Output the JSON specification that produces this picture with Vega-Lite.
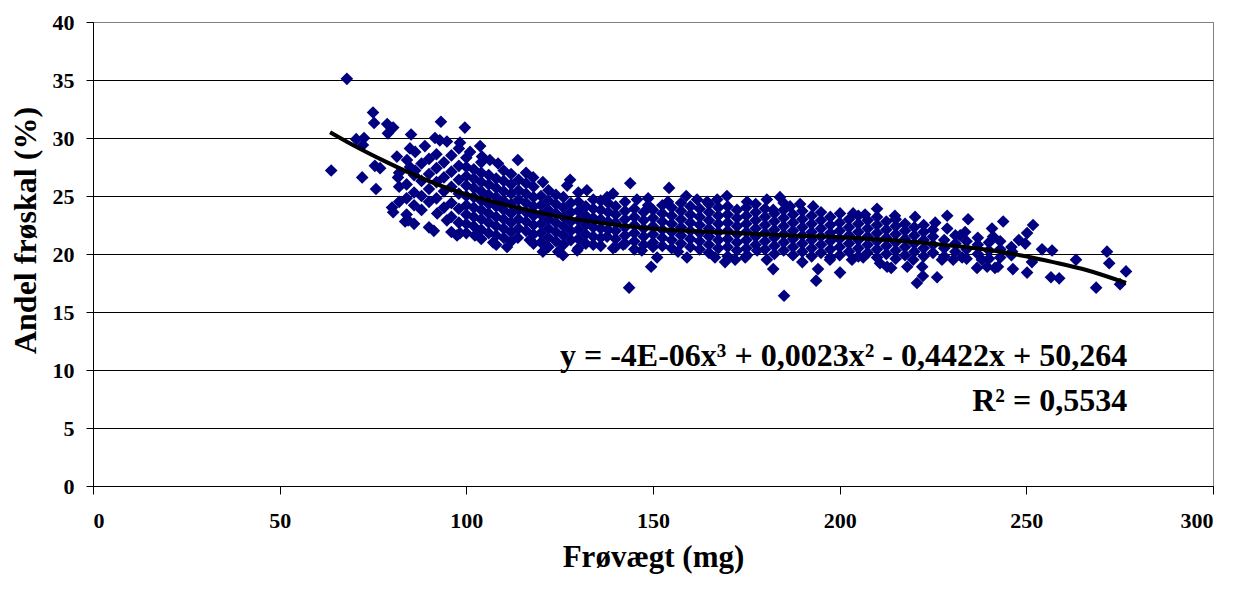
{
  "$schema": "https://vega.github.io/schema/vega-lite/v6.json",
  "width": 1120,
  "height": 464,
  "autosize": "none",
  "padding": {"left": 93, "top": 22, "right": 29, "bottom": 104},
  "background": "white",
  "config": {
    "font": "Liberation Serif",
    "view": {"stroke": "#808080", "strokeWidth": 1}
  },
  "datasets": {
    "pts": [
      {"x":63.8,"y":27.2},{"x":68.0,"y":35.1},{"x":70.5,"y":29.9},{"x":72.6,"y":30.0},{"x":72.3,"y":29.4},{"x":72.1,"y":26.6},
      {"x":75.0,"y":32.2},{"x":75.3,"y":31.3},{"x":75.8,"y":25.6},{"x":75.5,"y":27.6},{"x":76.9,"y":27.4},{"x":78.8,"y":31.2},
      {"x":80.4,"y":30.9},{"x":79.0,"y":30.4},{"x":81.4,"y":28.4},{"x":81.7,"y":26.6},{"x":80.1,"y":24.0},{"x":80.4,"y":23.6},
      {"x":83.6,"y":22.8},{"x":84.4,"y":22.9},{"x":85.2,"y":30.3},{"x":88.9,"y":29.3},{"x":84.9,"y":29.1},{"x":86.3,"y":28.8},
      {"x":84.1,"y":28.1},{"x":84.9,"y":27.5},{"x":86.3,"y":27.2},{"x":91.3,"y":22.0},{"x":97.5,"y":21.6},{"x":92.2,"y":23.5},
      {"x":94.8,"y":22.9},{"x":91.6,"y":30.0},{"x":92.9,"y":29.8},{"x":94.8,"y":29.7},{"x":93.2,"y":31.4},{"x":99.6,"y":30.9},
      {"x":98.3,"y":29.6},
      {"x":82,"y":24.5},{"x":82,"y":25.8},{"x":82,"y":27.0},
      {"x":84,"y":23.4},{"x":84,"y":24.8},{"x":84,"y":26.0},
      {"x":86,"y":22.6},{"x":86,"y":24.2},{"x":86,"y":25.3},{"x":86,"y":26.8},
      {"x":88,"y":23.8},{"x":88,"y":25.0},{"x":88,"y":26.3},{"x":88,"y":27.8},
      {"x":90,"y":22.3},{"x":90,"y":24.5},{"x":90,"y":25.6},{"x":90,"y":26.9},{"x":90,"y":28.2},
      {"x":92,"y":24.8},{"x":92,"y":26.2},{"x":92,"y":27.4},{"x":92,"y":28.6},
      {"x":94,"y":24.0},{"x":94,"y":25.4},{"x":94,"y":26.6},{"x":94,"y":27.9},
      {"x":96,"y":21.9},{"x":96,"y":23.2},{"x":96,"y":24.4},{"x":96,"y":25.8},{"x":96,"y":27.1},{"x":96,"y":28.5},
      {"x":98,"y":22.7},{"x":98,"y":23.9},{"x":98,"y":25.2},{"x":98,"y":26.4},{"x":98,"y":27.6},{"x":98,"y":29.1},
      {"x":100,"y":21.8},{"x":100,"y":22.6},{"x":100,"y":23.4},{"x":100,"y":24.2},{"x":100,"y":25.0},{"x":100,"y":25.9},{"x":100,"y":26.7},{"x":100,"y":27.5},{"x":100,"y":28.3},
      {"x":102,"y":22.4},{"x":102,"y":23.2},{"x":102,"y":24.0},{"x":102,"y":24.9},{"x":102,"y":25.7},{"x":102,"y":26.5},{"x":102,"y":27.3},
      {"x":104,"y":21.3},{"x":104,"y":22.1},{"x":104,"y":23.0},{"x":104,"y":23.8},{"x":104,"y":24.6},{"x":104,"y":25.4},{"x":104,"y":26.2},{"x":104,"y":27.0},{"x":104,"y":27.9},
      {"x":106,"y":21.8},{"x":106,"y":22.7},{"x":106,"y":23.5},{"x":106,"y":24.3},{"x":106,"y":25.1},{"x":106,"y":26.0},{"x":106,"y":26.8},
      {"x":108,"y":20.8},{"x":108,"y":21.6},{"x":108,"y":22.4},{"x":108,"y":23.2},{"x":108,"y":24.1},{"x":108,"y":24.9},{"x":108,"y":25.7},{"x":108,"y":26.5},
      {"x":110,"y":21.4},{"x":110,"y":22.2},{"x":110,"y":23.0},{"x":110,"y":23.8},{"x":110,"y":24.6},{"x":110,"y":25.4},{"x":110,"y":26.3},{"x":110,"y":27.2},
      {"x":112,"y":21.1},{"x":112,"y":21.9},{"x":112,"y":22.7},{"x":112,"y":23.5},{"x":112,"y":24.3},{"x":112,"y":25.2},{"x":112,"y":26.0},{"x":112,"y":26.9},
      {"x":114,"y":22.2},{"x":114,"y":23.0},{"x":114,"y":23.8},{"x":114,"y":24.7},{"x":114,"y":25.5},{"x":114,"y":26.4},
      {"x":116,"y":22.0},{"x":116,"y":22.8},{"x":116,"y":23.6},{"x":116,"y":24.4},{"x":116,"y":25.2},{"x":116,"y":26.1},{"x":116,"y":27.0},
      {"x":118,"y":20.9},{"x":118,"y":21.7},{"x":118,"y":22.5},{"x":118,"y":23.3},{"x":118,"y":24.1},{"x":118,"y":24.9},{"x":118,"y":25.8},
      {"x":120,"y":21.0},{"x":120,"y":21.8},{"x":120,"y":22.6},{"x":120,"y":23.4},{"x":120,"y":24.2},{"x":120,"y":25.0},
      {"x":122,"y":20.6},{"x":122,"y":21.4},{"x":122,"y":22.2},{"x":122,"y":23.0},{"x":122,"y":23.8},{"x":122,"y":24.6},{"x":122,"y":25.5},
      {"x":124,"y":21.1},{"x":124,"y":21.9},{"x":124,"y":22.7},{"x":124,"y":23.5},{"x":124,"y":24.3},{"x":124,"y":25.1},
      {"x":126,"y":20.8},{"x":126,"y":21.6},{"x":126,"y":22.4},{"x":126,"y":23.2},{"x":126,"y":24.0},{"x":126,"y":24.9},
      {"x":128,"y":21.2},{"x":128,"y":22.0},{"x":128,"y":22.8},{"x":128,"y":23.6},{"x":128,"y":24.4},
      {"x":130,"y":20.5},{"x":130,"y":21.3},{"x":130,"y":22.1},{"x":130,"y":22.9},{"x":130,"y":23.7},{"x":130,"y":24.5},{"x":130,"y":25.3},
      {"x":132,"y":20.9},{"x":132,"y":21.7},{"x":132,"y":22.5},{"x":132,"y":23.3},{"x":132,"y":24.1},
      {"x":134,"y":21.5},{"x":134,"y":22.3},{"x":134,"y":23.1},{"x":134,"y":23.9},{"x":134,"y":24.7},
      {"x":136,"y":20.7},{"x":136,"y":21.4},{"x":136,"y":22.2},{"x":136,"y":23.0},{"x":136,"y":23.8},{"x":136,"y":24.6},
      {"x":138,"y":22.1},{"x":138,"y":22.8},{"x":138,"y":23.6},{"x":138,"y":24.4},
      {"x":140,"y":20.6},{"x":140,"y":21.3},{"x":140,"y":22.0},{"x":140,"y":22.7},{"x":140,"y":23.4},{"x":140,"y":24.1},
      {"x":142.5,"y":20.9},{"x":142.5,"y":21.6},{"x":142.5,"y":22.3},{"x":142.5,"y":23.0},{"x":142.5,"y":23.7},{"x":142.5,"y":24.5},
      {"x":145,"y":20.4},{"x":145,"y":21.1},{"x":145,"y":21.8},{"x":145,"y":22.5},{"x":145,"y":23.2},{"x":145,"y":23.9},
      {"x":147.5,"y":20.8},{"x":147.5,"y":21.5},{"x":147.5,"y":22.2},{"x":147.5,"y":22.9},{"x":147.5,"y":23.6},
      {"x":150,"y":21.0},{"x":150,"y":21.7},{"x":150,"y":22.4},{"x":150,"y":23.1},{"x":150,"y":23.8},
      {"x":152.5,"y":20.7},{"x":152.5,"y":21.4},{"x":152.5,"y":22.1},{"x":152.5,"y":22.8},{"x":152.5,"y":23.5},{"x":152.5,"y":24.2},
      {"x":155,"y":20.5},{"x":155,"y":21.2},{"x":155,"y":21.9},{"x":155,"y":22.6},{"x":155,"y":23.3},{"x":155,"y":24.0},
      {"x":157.5,"y":20.9},{"x":157.5,"y":21.6},{"x":157.5,"y":22.3},{"x":157.5,"y":23.0},{"x":157.5,"y":23.7},{"x":157.5,"y":24.4},
      {"x":160,"y":20.6},{"x":160,"y":21.3},{"x":160,"y":22.0},{"x":160,"y":22.7},{"x":160,"y":23.4},{"x":160,"y":24.1},
      {"x":162.5,"y":20.4},{"x":162.5,"y":21.1},{"x":162.5,"y":21.8},{"x":162.5,"y":22.5},{"x":162.5,"y":23.2},{"x":162.5,"y":23.9},
      {"x":165,"y":20.1},{"x":165,"y":20.8},{"x":165,"y":21.5},{"x":165,"y":22.2},{"x":165,"y":22.9},{"x":165,"y":23.6},{"x":165,"y":24.3},
      {"x":167.5,"y":20.5},{"x":167.5,"y":21.2},{"x":167.5,"y":21.9},{"x":167.5,"y":22.6},{"x":167.5,"y":23.3},{"x":167.5,"y":24.0},
      {"x":170,"y":19.8},{"x":170,"y":20.6},{"x":170,"y":21.3},{"x":170,"y":22.0},{"x":170,"y":22.7},{"x":170,"y":23.4},{"x":170,"y":24.1},
      {"x":172.5,"y":20.3},{"x":172.5,"y":21.0},{"x":172.5,"y":21.7},{"x":172.5,"y":22.4},{"x":172.5,"y":23.1},{"x":172.5,"y":23.8},
      {"x":175,"y":20.5},{"x":175,"y":21.2},{"x":175,"y":21.9},{"x":175,"y":22.6},{"x":175,"y":23.3},{"x":175,"y":24.0},
      {"x":177.5,"y":20.8},{"x":177.5,"y":21.5},{"x":177.5,"y":22.2},{"x":177.5,"y":22.9},{"x":177.5,"y":23.6},{"x":177.5,"y":24.3},
      {"x":180,"y":20.4},{"x":180,"y":21.1},{"x":180,"y":21.8},{"x":180,"y":22.5},{"x":180,"y":23.2},{"x":180,"y":23.9},
      {"x":182.5,"y":20.0},{"x":182.5,"y":20.7},{"x":182.5,"y":21.4},{"x":182.5,"y":22.1},{"x":182.5,"y":22.8},{"x":182.5,"y":23.5},
      {"x":185,"y":20.3},{"x":185,"y":21.0},{"x":185,"y":21.7},{"x":185,"y":22.4},{"x":185,"y":23.1},{"x":185,"y":23.8},{"x":185,"y":24.4},
      {"x":187.5,"y":19.9},{"x":187.5,"y":20.6},{"x":187.5,"y":21.3},{"x":187.5,"y":22.0},{"x":187.5,"y":22.7},{"x":187.5,"y":23.4},
      {"x":190,"y":20.2},{"x":190,"y":20.9},{"x":190,"y":21.6},{"x":190,"y":22.3},{"x":190,"y":23.0},{"x":190,"y":23.7},
      {"x":192.5,"y":19.8},{"x":192.5,"y":20.5},{"x":192.5,"y":21.2},{"x":192.5,"y":21.9},{"x":192.5,"y":22.6},{"x":192.5,"y":23.3},
      {"x":195,"y":20.1},{"x":195,"y":20.8},{"x":195,"y":21.5},{"x":195,"y":22.2},{"x":195,"y":22.9},{"x":195,"y":23.6},
      {"x":197.5,"y":19.7},{"x":197.5,"y":20.4},{"x":197.5,"y":21.1},{"x":197.5,"y":21.8},{"x":197.5,"y":22.5},{"x":197.5,"y":23.2},
      {"x":200,"y":19.9},{"x":200,"y":20.6},{"x":200,"y":21.3},{"x":200,"y":22.0},{"x":200,"y":22.7},
      {"x":202.5,"y":20.2},{"x":202.5,"y":20.9},{"x":202.5,"y":21.6},{"x":202.5,"y":22.3},{"x":202.5,"y":23.0},
      {"x":205,"y":19.8},{"x":205,"y":20.5},{"x":205,"y":21.2},{"x":205,"y":21.9},{"x":205,"y":22.6},{"x":205,"y":23.3},
      {"x":207.5,"y":20.1},{"x":207.5,"y":20.8},{"x":207.5,"y":21.5},{"x":207.5,"y":22.2},{"x":207.5,"y":22.9},
      {"x":210,"y":19.7},{"x":210,"y":20.4},{"x":210,"y":21.1},{"x":210,"y":21.8},{"x":210,"y":22.5},{"x":210,"y":23.2},
      {"x":212.5,"y":20.0},{"x":212.5,"y":20.7},{"x":212.5,"y":21.4},{"x":212.5,"y":22.1},{"x":212.5,"y":22.8},
      {"x":215,"y":19.6},{"x":215,"y":20.3},{"x":215,"y":21.0},{"x":215,"y":21.7},{"x":215,"y":22.4},{"x":215,"y":23.0},
      {"x":217.5,"y":19.9},{"x":217.5,"y":20.6},{"x":217.5,"y":21.3},{"x":217.5,"y":22.0},{"x":217.5,"y":22.6},
      {"x":220,"y":20.2},{"x":220,"y":20.9},{"x":220,"y":21.6},{"x":220,"y":22.3},
      {"x":222.5,"y":19.8},{"x":222.5,"y":20.5},{"x":222.5,"y":21.2},{"x":222.5,"y":21.9},{"x":222.5,"y":22.5},
      {"x":225,"y":20.1},{"x":225,"y":20.8},{"x":225,"y":21.5},{"x":225,"y":22.1},
      {"x":228,"y":19.8},{"x":228,"y":20.5},{"x":228,"y":21.2},
      {"x":231,"y":20.2},{"x":231,"y":20.9},{"x":231,"y":21.6},
      {"x":234,"y":19.6},{"x":234,"y":20.4},{"x":234,"y":21.1},
      {"x":237,"y":20.0},{"x":237,"y":20.8},{"x":237,"y":21.4},
      {"x":240,"y":19.6},{"x":240,"y":20.3},{"x":240,"y":21.0},
      {"x":243,"y":20.4},{"x":243,"y":21.1},
      {"x":246,"y":19.9},{"x":246,"y":20.6},
      {"x":248,"y":21.2},
      {"x":101,"y":28.8},{"x":103.7,"y":29.3},{"x":104.2,"y":28.4},{"x":106.3,"y":28.1},{"x":108.5,"y":27.8},{"x":113.8,"y":28.1},
      {"x":117.9,"y":26.6},{"x":120.5,"y":26.2},{"x":127.8,"y":26.4},{"x":132.3,"y":25.5},{"x":137.7,"y":24.9},{"x":127,"y":25.9},
      {"x":98.3,"y":21.8},{"x":102.3,"y":21.6},{"x":107.2,"y":21.0},{"x":110.9,"y":20.6},{"x":113.8,"y":21.4},{"x":117,"y":21.2},
      {"x":120.5,"y":20.2},{"x":124.6,"y":20.2},{"x":125.9,"y":19.9},{"x":129.7,"y":20.3},{"x":134,"y":20.8},{"x":137.7,"y":21.5},
      {"x":143.9,"y":26.1},{"x":154.3,"y":25.7},{"x":154,"y":24.5},{"x":158.9,"y":25.0},{"x":169.8,"y":25.0},{"x":175.2,"y":24.5},
      {"x":139.3,"y":25.2},{"x":145.7,"y":24.7},{"x":148.7,"y":24.8},{"x":148.7,"y":24.2},{"x":161.8,"y":24.7},{"x":164.5,"y":24.5},
      {"x":167.2,"y":24.7},
      {"x":149.5,"y":18.9},{"x":143.6,"y":17.1},{"x":151.1,"y":19.7},{"x":156.7,"y":20.2},{"x":159.1,"y":19.7},{"x":166.6,"y":19.7},
      {"x":169.3,"y":19.3},{"x":172,"y":19.5},{"x":175.2,"y":19.9},{"x":139.3,"y":20.5},{"x":142,"y":20.8},{"x":147,"y":20.3},
      {"x":150,"y":20.6},
      {"x":180.5,"y":24.7},{"x":184,"y":24.9},{"x":189.4,"y":24.3},{"x":192.9,"y":24.1},{"x":200.1,"y":23.5},{"x":203.6,"y":23.5},
      {"x":206.8,"y":23.4},{"x":210,"y":23.9},{"x":186.7,"y":24.1},{"x":182.2,"y":23.8},
      {"x":182.2,"y":18.7},{"x":185.1,"y":16.4},{"x":193.7,"y":17.7},{"x":194.2,"y":18.7},{"x":200.1,"y":18.4},{"x":180.5,"y":19.5},
      {"x":190,"y":19.3},{"x":197.4,"y":19.5},{"x":203.3,"y":19.5},{"x":206.3,"y":19.7},{"x":210.8,"y":19.2},{"x":212.7,"y":18.9},
      {"x":174.7,"y":19.7},{"x":177.9,"y":20.3},
      {"x":214.8,"y":23.3},{"x":220.2,"y":23.2},{"x":228.8,"y":23.3},{"x":234.4,"y":23.0},{"x":243.8,"y":22.8},{"x":250.2,"y":21.8},
      {"x":249.7,"y":20.9},{"x":225.6,"y":22.7},{"x":228.8,"y":22.2},{"x":240.8,"y":22.2},{"x":241.1,"y":21.5},
      {"x":232.3,"y":21.6},{"x":233.6,"y":21.9},
      {"x":213.8,"y":18.8},{"x":218.1,"y":18.9},{"x":220.7,"y":17.5},{"x":222.3,"y":18.1},{"x":226.1,"y":18.0},{"x":222.1,"y":18.9},
      {"x":230.4,"y":19.5},{"x":236.8,"y":18.8},{"x":239.5,"y":18.9},{"x":241.6,"y":18.8},{"x":242.4,"y":18.9},{"x":246.4,"y":18.7},
      {"x":250.2,"y":18.4},{"x":219.7,"y":19.5},{"x":227.4,"y":19.5},{"x":232.8,"y":19.7},{"x":238.1,"y":19.5},{"x":243,"y":19.7},
      {"x":246.2,"y":20.2},
      {"x":251.8,"y":22.5},{"x":251.5,"y":19.3},{"x":254.2,"y":20.4},{"x":256.9,"y":20.3},{"x":256.6,"y":18.0},{"x":258.8,"y":17.9},
      {"x":263.3,"y":19.5},{"x":268.7,"y":17.1},{"x":271.6,"y":20.2},{"x":272.2,"y":19.2},{"x":275.1,"y":17.4},{"x":276.7,"y":18.5}
    ],
    "trend": [
      {"x":63.5,"y":30.5},{"x":69.6,"y":29.4},{"x":78.8,"y":27.9},{"x":87.6,"y":26.6},{"x":98.3,"y":25.3},{"x":107.2,"y":24.5},
      {"x":116.3,"y":23.8},{"x":125.1,"y":23.2},{"x":135.8,"y":22.7},{"x":149.2,"y":22.2},{"x":162.6,"y":21.95},{"x":176,"y":21.75},
      {"x":186.7,"y":21.6},{"x":200.1,"y":21.45},{"x":213.5,"y":21.2},{"x":224.2,"y":20.9},{"x":237.6,"y":20.45},{"x":248.3,"y":19.9},
      {"x":257.2,"y":19.3},{"x":266.3,"y":18.6},{"x":276.7,"y":17.5}
    ],
    "eq": [
      {"x":277,"y":10.34,"t":"y = -4E-06x³ + 0,0023x² - 0,4422x + 50,264"},
      {"x":277,"y":6.47,"t":"R² = 0,5534"}
    ]
  },
  "layer": [
    {
      "data": {"name": "pts"},
      "mark": {"type": "point", "shape": "diamond", "filled": true, "size": 160, "color": "#000080", "opacity": 1, "strokeWidth": 0},
      "encoding": {
        "x": {
          "field": "x", "type": "quantitative",
          "scale": {"domain": [0, 300], "nice": false, "zero": false},
          "axis": {
            "values": [0, 50, 100, 150, 200, 250, 300],
            "grid": false,
            "tickSize": 8, "tickColor": "#000", "domainColor": "#000",
            "labelFont": "Liberation Serif", "labelFontSize": 22, "labelFontWeight": "bold", "labelColor": "#000",
            "labelPadding": 16,
            "title": "Frøvægt (mg)",
            "titleFont": "Liberation Serif", "titleFontSize": 31, "titleFontWeight": "bold", "titleColor": "#000",
            "titleBaseline": "alphabetic", "titleY": 80
          }
        },
        "y": {
          "field": "y", "type": "quantitative",
          "scale": {"domain": [0, 40], "nice": false, "zero": false},
          "axis": {
            "values": [0, 5, 10, 15, 20, 25, 30, 35, 40],
            "grid": true,
            "gridColor": {"condition": {"test": "datum.value === 40", "value": "#808080"}, "value": "#000"},
            "gridWidth": 1, "gridOpacity": 1,
            "tickSize": 7, "tickColor": "#000", "domainColor": "#000",
            "labelFont": "Liberation Serif", "labelFontSize": 22, "labelFontWeight": "bold", "labelColor": "#000",
            "labelPadding": 12,
            "title": "Andel frøskal (%)",
            "titleFont": "Liberation Serif", "titleFontSize": 32, "titleFontWeight": "bold", "titleColor": "#000",
            "titleAngle": 270, "titleBaseline": "alphabetic", "titleX": -58, "titleY": 208
          }
        }
      }
    },
    {
      "data": {"name": "trend"},
      "mark": {"type": "line", "color": "#000", "strokeWidth": 4, "interpolate": "monotone"},
      "encoding": {
        "x": {"field": "x", "type": "quantitative"},
        "y": {"field": "y", "type": "quantitative"}
      }
    },
    {
      "data": {"name": "eq"},
      "mark": {"type": "text", "align": "right", "baseline": "alphabetic", "font": "Liberation Serif", "fontSize": 32, "fontWeight": "bold", "color": "#000"},
      "encoding": {
        "x": {"field": "x", "type": "quantitative"},
        "y": {"field": "y", "type": "quantitative"},
        "text": {"field": "t"}
      }
    }
  ]
}
